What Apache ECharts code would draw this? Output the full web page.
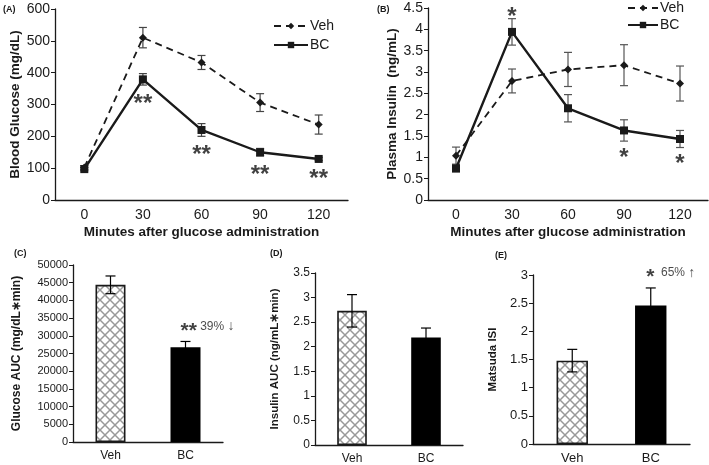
<!DOCTYPE html>
<html>
<head>
<meta charset="utf-8">
<script src="https://cdn.jsdelivr.net/npm/echarts@6/dist/echarts.min.js"></script>
<style>html,body{margin:0;padding:0;background:#fff}#main{width:709px;height:465px}</style>
</head>
<body>
<div id="main"></div>
<script>
	"use strict";

	/*----- data -----*/
	var minutes = ['0', '30', '60', '90', '120'];
	var glucoseVeh = [102, 510, 432, 306, 237];
	var glucoseVehErr = [6, 32, 22, 28, 30];
	var glucoseBC = [97, 379, 220, 150, 129];
	var glucoseBCErr = [5, 18, 20, 12, 5];
	var glucoseSig = ['', '**', '**', '**', '**'];

	var insulinVeh = [1.04, 2.79, 3.06, 3.16, 2.73];
	var insulinVehErr = [0.2, 0.28, 0.4, 0.48, 0.41];
	var insulinBC = [0.74, 3.94, 2.15, 1.63, 1.43];
	var insulinBCErr = [0.08, 0.31, 0.32, 0.25, 0.2];
	var insulinSig = ['', '*', '', '*', '*'];

	var groups = ['Veh', 'BC'];
	var glucoseAUC = [44400, 26800];
	var glucoseAUCErr = [2500, 1600];
	var glucoseAUCNote = ['', '{s|**} 39% {a|\u2193}'];
	var insulinAUC = [2.73, 2.19];
	var insulinAUCErr = [0.33, 0.19];
	var matsuda = [1.48, 2.46];
	var matsudaErr = [0.2, 0.31];
	var matsudaNote = ['', '{s|*}  65% {a|\u2191}'];

	/*----- helpers -----*/
	var ink = '#1a1a1a';
	var sans = "'Liberation Sans', Arial, sans-serif";
	var narrow = "'Liberation Sans Narrow', 'Liberation Sans', Arial, sans-serif";

	var hatch = document.createElement('canvas');
	hatch.width = 10; hatch.height = 10;
	var hc = hatch.getContext('2d');
	hc.fillStyle = '#fff';
	hc.fillRect(0, 0, 10, 10);
	hc.strokeStyle = '#999';
	hc.lineWidth = 1.5;
	hc.beginPath();
	hc.moveTo(0, 0); hc.lineTo(10, 10);
	hc.moveTo(10, 0); hc.lineTo(0, 10);
	hc.stroke();

	function errorBars(idx, vals, errs, color, cap) {
		return {
			type: 'custom',
			xAxisIndex: idx,
			yAxisIndex: idx,
			silent: true,
			z: 3,
			encode: { x: 0, y: [1, 2] },
			data: vals.map(function (v, i) { return [i, v - errs[i], v + errs[i]]; }),
			renderItem: function (params, api) {
				var lo = api.coord([api.value(0), api.value(1)]);
				var hi = api.coord([api.value(0), api.value(2)]);
				var st = { stroke: color, lineWidth: 1.2 };
				return {
					type: 'group',
					children: [
						{ type: 'line', shape: { x1: lo[0], y1: lo[1], x2: hi[0], y2: hi[1] }, style: st },
						{ type: 'line', shape: { x1: lo[0] - cap, y1: lo[1], x2: lo[0] + cap, y2: lo[1] }, style: st },
						{ type: 'line', shape: { x1: hi[0] - cap, y1: hi[1], x2: hi[0] + cap, y2: hi[1] }, style: st }
					]
				};
			}
		};
	}

	// stars go above the BC error bar when BC is higher, below otherwise
	function sigMarks(idx, veh, bc, bcErr, sig, distUp, distDown) {
		var data = [];
		sig.forEach(function (s, i) {
			if (!s) return;
			var up = bc[i] > veh[i];
			data.push({
				value: [i, up ? bc[i] + bcErr[i] : bc[i] - bcErr[i]],
				label: { position: up ? 'top' : 'bottom', formatter: s, distance: up ? distUp : distDown }
			});
		});
		return {
			type: 'scatter', xAxisIndex: idx, yAxisIndex: idx, silent: true,
			symbolSize: 0, data: data,
			label: { show: true, fontSize: 24, fontWeight: 'bold', fontFamily: sans, color: '#111' }
		};
	}

	function barNote(idx, vals, errs, note, dx) {
		var data = [];
		note.forEach(function (s, i) {
			if (s) data.push([i, vals[i] + errs[i], s]);
		});
		return {
			type: 'scatter', xAxisIndex: idx, yAxisIndex: idx, silent: true,
			symbolSize: 0, data: data,
			label: {
				show: true, position: 'top', distance: 0, offset: [dx, 0],
				formatter: function (p) { return p.value[2]; },
				fontSize: 12, fontFamily: narrow, color: ink,
				rich: {
					s: { fontSize: 21, fontWeight: 'bold', fontFamily: sans, color: '#111', padding: [9, 0, 0, 0] },
					a: { fontSize: 14, fontFamily: sans, color: ink }
				}
			}
		};
	}

	function plain(v) { return String(v); }

	function xAx(idx, cats, size, font, name) {
		return {
			type: 'category', gridIndex: idx, data: cats,
			axisLine: { lineStyle: { color: ink, width: 1.3 } },
			axisTick: { length: 4, lineStyle: { color: ink } },
			axisLabel: { fontSize: size, fontFamily: font, color: ink, margin: 8 },
			name: name || '', nameLocation: 'middle', nameGap: 25,
			nameTextStyle: { fontSize: 13.5, fontWeight: 'bold', fontFamily: sans, color: ink }
		};
	}

	function yAx(idx, max, interval, size, font, name, gap, nameSize) {
		return {
			type: 'value', gridIndex: idx, min: 0, max: max, interval: interval,
			splitLine: { show: false },
			axisLine: { show: true, lineStyle: { color: ink, width: 1.3 } },
			axisTick: { show: true, length: 4, lineStyle: { color: ink } },
			axisLabel: { fontSize: size, fontFamily: font, color: ink, margin: 5, formatter: plain },
			name: name, nameLocation: 'middle', nameGap: gap,
			nameTextStyle: { fontSize: nameSize, fontWeight: 'bold', fontFamily: sans, color: ink }
		};
	}

	function lineSeries(idx, name, vals, dashed) {
		return {
			name: name, type: 'line', xAxisIndex: idx, yAxisIndex: idx, z: 4,
			data: vals,
			symbol: dashed ? 'diamond' : 'rect',
			symbolSize: 8,
			itemStyle: { color: ink },
			lineStyle: { color: ink, width: dashed ? 1.8 : 2.4, type: dashed ? [7, 5] : 'solid' }
		};
	}

	function barSeries(idx, vals) {
		return {
			type: 'bar', xAxisIndex: idx, yAxisIndex: idx, barWidth: '40%',
			data: [
				{ value: vals[0], itemStyle: { color: { image: hatch, repeat: 'repeat' }, borderColor: ink, borderWidth: 1.6 } },
				{ value: vals[1], itemStyle: { color: '#000' } }
			]
		};
	}

	var option = {
		animation: false,
		grid: [
			{ left: 55, top: 9, width: 293, height: 191 },
			{ left: 428, top: 8, width: 280, height: 192 },
			{ left: 73, top: 265, width: 150, height: 177 },
			{ left: 315, top: 273, width: 148, height: 173 },
			{ left: 533, top: 275, width: 157, height: 171 }
		],
		legend: [
			{
				orient: 'vertical', left: 268, top: 14, itemGap: 5,
				itemWidth: 34, itemHeight: 8, data: ['Veh', 'BC'],
				textStyle: { fontSize: 14, fontFamily: sans, color: ink, padding: [0, 0, 0, -3] }
			},
			{
				orient: 'vertical', left: 622, top: -4, itemGap: 3,
				itemWidth: 30, itemHeight: 8, data: ['Veh', 'BC'],
				textStyle: { fontSize: 14, fontFamily: sans, color: ink, padding: [0, 0, 0, -3] }
			}
		],
		xAxis: [
			xAx(0, minutes, 14, sans, 'Minutes after glucose administration'),
			xAx(1, minutes, 14, sans, 'Minutes after glucose administration'),
			xAx(2, groups, 12, narrow),
			xAx(3, groups, 12, narrow),
			xAx(4, groups, 13, narrow)
		],
		yAxis: [
			yAx(0, 600, 100, 14, sans, 'Blood Glucose (mg/dL)', 33, 13.5),
			yAx(1, 4.5, 0.5, 14, sans, 'Plasma Insulin  (ng/mL)', 28, 13.5),
			yAx(2, 50000, 5000, 11, narrow, 'Glucose AUC (mg/dL\u2217min)', 50, 12),
			yAx(3, 3.5, 0.5, 12, narrow, 'Insulin AUC (ng/mL\u2217min)', 34, 11.5),
			yAx(4, 3, 0.5, 13, narrow, 'Matsuda ISI', 34, 11.5)
		],
		series: [
			errorBars(0, glucoseVeh, glucoseVehErr, '#444', 4),
			errorBars(0, glucoseBC, glucoseBCErr, '#444', 4),
			lineSeries(0, 'Veh', glucoseVeh, true),
			lineSeries(0, 'BC', glucoseBC, false),
			sigMarks(0, glucoseVeh, glucoseBC, glucoseBCErr, glucoseSig, 0, 7),

			errorBars(1, insulinVeh, insulinVehErr, '#555', 4),
			errorBars(1, insulinBC, insulinBCErr, '#555', 4),
			lineSeries(1, 'Veh', insulinVeh, true),
			lineSeries(1, 'BC', insulinBC, false),
			sigMarks(1, insulinVeh, insulinBC, insulinBCErr, insulinSig, -11, 5),

			barSeries(2, glucoseAUC),
			errorBars(2, glucoseAUC, glucoseAUCErr, '#000', 5),
			barNote(2, glucoseAUC, glucoseAUCErr, glucoseAUCNote, 22),

			barSeries(3, insulinAUC),
			errorBars(3, insulinAUC, insulinAUCErr, '#000', 5),

			barSeries(4, matsuda),
			errorBars(4, matsuda, matsudaErr, '#000', 5),
			barNote(4, matsuda, matsudaErr, matsudaNote, 20)
		],
		graphic: [
			{ type: 'text', left: 3, top: 5, style: { text: '(A)', font: 'bold 9px ' + sans, fill: ink } },
			{ type: 'text', left: 377, top: 5, style: { text: '(B)', font: 'bold 9px ' + sans, fill: ink } },
			{ type: 'text', left: 14, top: 249, style: { text: '(C)', font: 'bold 9px ' + sans, fill: ink } },
			{ type: 'text', left: 270, top: 249, style: { text: '(D)', font: 'bold 9px ' + sans, fill: ink } },
			{ type: 'text', left: 495, top: 251, style: { text: '(E)', font: 'bold 9px ' + sans, fill: ink } }
		]
	};

	var chart = echarts.init(document.getElementById('main'));
	chart.setOption(option);
</script>
</body>
</html>
